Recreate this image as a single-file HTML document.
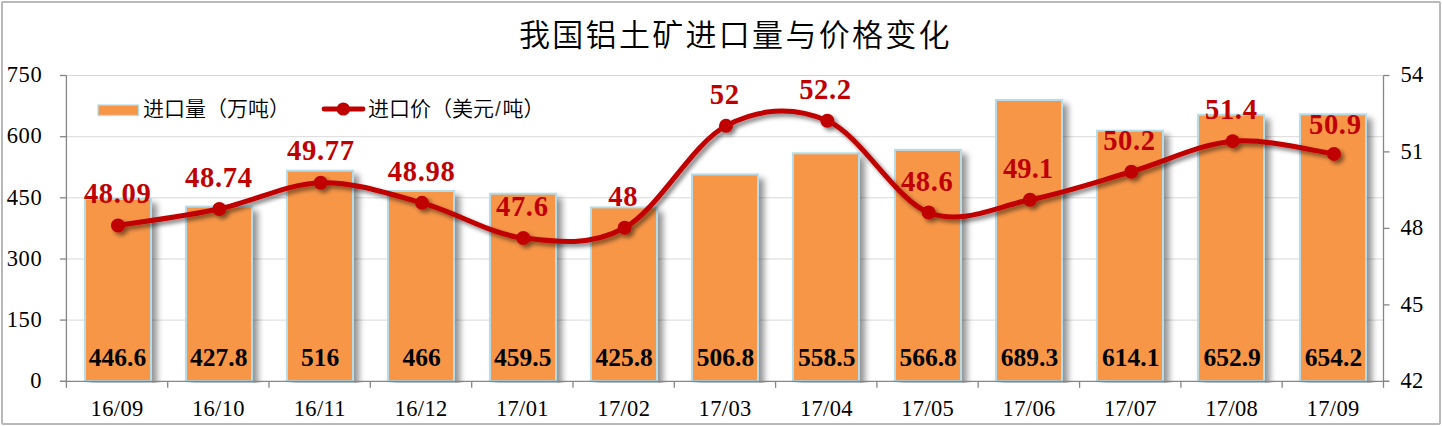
<!DOCTYPE html>
<html lang="zh"><head><meta charset="utf-8"><title>我国铝土矿进口量与价格变化</title>
<style>html,body{margin:0;padding:0;background:#fff;}body{width:1442px;height:426px;overflow:hidden;}svg{display:block;}
.ax{font-family:"Liberation Serif", "Times New Roman", serif;font-size:22.5px;fill:#000;letter-spacing:0.35px;}
.bl{font-family:"Liberation Serif", "Times New Roman", serif;font-size:25.5px;font-weight:bold;fill:#000;}
.rl{font-family:"Liberation Serif", "Times New Roman", serif;font-size:28.6px;font-weight:bold;fill:#c00000;letter-spacing:0.65px;}
.lg{font-family:"Liberation Sans", "Noto Sans CJK SC", sans-serif;font-size:21px;font-weight:350;fill:#000;}
.tt{font-family:"Liberation Sans", "Noto Sans CJK SC", sans-serif;font-size:31px;font-weight:350;letter-spacing:2.3px;fill:#000;}
</style></head><body>
<svg width="1442" height="426" viewBox="0 0 1442 426">
<defs>
<filter id="bs" x="-20%" y="-10%" width="150%" height="125%"><feGaussianBlur in="SourceAlpha" stdDeviation="3.1"/><feOffset dx="4.5" dy="4.5" result="b"/><feComponentTransfer><feFuncA type="linear" slope="0.43"/></feComponentTransfer><feMerge><feMergeNode/><feMergeNode in="SourceGraphic"/></feMerge></filter>
<filter id="ls" x="-5%" y="-20%" width="110%" height="140%"><feGaussianBlur in="SourceAlpha" stdDeviation="2.2"/><feOffset dx="3" dy="3" result="b"/><feComponentTransfer><feFuncA type="linear" slope="0.5"/></feComponentTransfer><feMerge><feMergeNode/><feMergeNode in="SourceGraphic"/></feMerge></filter>
<clipPath id="pc"><rect x="0" y="0" width="1442" height="382.9"/></clipPath>
</defs>
<rect x="0" y="0" width="1442" height="426" fill="#fff"/>
<rect x="2" y="2" width="1438" height="421.9" rx="0.8" ry="0.8" fill="#fff" stroke="#b9b9b9" stroke-width="2"/>
<line x1="66.4" y1="320.1" x2="1383.5" y2="320.1" stroke="#d9d9d9" stroke-width="1"/>
<line x1="66.4" y1="259.0" x2="1383.5" y2="259.0" stroke="#d9d9d9" stroke-width="1"/>
<line x1="66.4" y1="197.8" x2="1383.5" y2="197.8" stroke="#d9d9d9" stroke-width="1"/>
<line x1="66.4" y1="136.7" x2="1383.5" y2="136.7" stroke="#d9d9d9" stroke-width="1"/>
<line x1="66.4" y1="75.5" x2="1383.5" y2="75.5" stroke="#d9d9d9" stroke-width="1"/>
<text class="tt" x="519" y="46.3">我国铝土矿进口量与价格变化</text>
<g clip-path="url(#pc)"><g filter="url(#bs)">
<rect x="85.0" y="199.0" width="66.0" height="182.1" fill="#f79646" stroke="#b5dce8" stroke-width="2"/>
<rect x="186.0" y="206.6" width="66.0" height="174.5" fill="#f79646" stroke="#b5dce8" stroke-width="2"/>
<rect x="287.0" y="170.7" width="66.0" height="210.4" fill="#f79646" stroke="#b5dce8" stroke-width="2"/>
<rect x="388.0" y="191.0" width="66.0" height="190.1" fill="#f79646" stroke="#b5dce8" stroke-width="2"/>
<rect x="490.0" y="193.7" width="66.0" height="187.4" fill="#f79646" stroke="#b5dce8" stroke-width="2"/>
<rect x="591.0" y="207.4" width="66.0" height="173.7" fill="#f79646" stroke="#b5dce8" stroke-width="2"/>
<rect x="692.0" y="174.4" width="66.0" height="206.7" fill="#f79646" stroke="#b5dce8" stroke-width="2"/>
<rect x="793.0" y="153.3" width="66.0" height="227.8" fill="#f79646" stroke="#b5dce8" stroke-width="2"/>
<rect x="895.0" y="149.9" width="66.0" height="231.2" fill="#f79646" stroke="#b5dce8" stroke-width="2"/>
<rect x="996.0" y="100.0" width="66.0" height="281.1" fill="#f79646" stroke="#b5dce8" stroke-width="2"/>
<rect x="1097.0" y="130.7" width="66.0" height="250.4" fill="#f79646" stroke="#b5dce8" stroke-width="2"/>
<rect x="1198.0" y="114.8" width="66.0" height="266.3" fill="#f79646" stroke="#b5dce8" stroke-width="2"/>
<rect x="1300.0" y="114.3" width="66.0" height="266.8" fill="#f79646" stroke="#b5dce8" stroke-width="2"/>
</g></g>
<g stroke="#868686" stroke-width="1.3" fill="none">
<line x1="66.4" y1="75.5" x2="66.4" y2="381.3"/>
<line x1="1383.5" y1="75.5" x2="1383.5" y2="381.3"/>
<line x1="59.9" y1="381.3" x2="1389.0" y2="381.3"/>
<line x1="59.9" y1="381.3" x2="66.4" y2="381.3"/>
<line x1="59.9" y1="320.1" x2="66.4" y2="320.1"/>
<line x1="59.9" y1="259.0" x2="66.4" y2="259.0"/>
<line x1="59.9" y1="197.8" x2="66.4" y2="197.8"/>
<line x1="59.9" y1="136.7" x2="66.4" y2="136.7"/>
<line x1="59.9" y1="75.5" x2="66.4" y2="75.5"/>
<line x1="1383.5" y1="381.3" x2="1389.5" y2="381.3"/>
<line x1="1383.5" y1="304.9" x2="1389.5" y2="304.9"/>
<line x1="1383.5" y1="228.4" x2="1389.5" y2="228.4"/>
<line x1="1383.5" y1="151.9" x2="1389.5" y2="151.9"/>
<line x1="1383.5" y1="75.5" x2="1389.5" y2="75.5"/>
<line x1="66.4" y1="381.3" x2="66.4" y2="387.8"/>
<line x1="167.7" y1="381.3" x2="167.7" y2="387.8"/>
<line x1="269.0" y1="381.3" x2="269.0" y2="387.8"/>
<line x1="370.3" y1="381.3" x2="370.3" y2="387.8"/>
<line x1="471.7" y1="381.3" x2="471.7" y2="387.8"/>
<line x1="573.0" y1="381.3" x2="573.0" y2="387.8"/>
<line x1="674.3" y1="381.3" x2="674.3" y2="387.8"/>
<line x1="775.6" y1="381.3" x2="775.6" y2="387.8"/>
<line x1="876.9" y1="381.3" x2="876.9" y2="387.8"/>
<line x1="978.2" y1="381.3" x2="978.2" y2="387.8"/>
<line x1="1079.6" y1="381.3" x2="1079.6" y2="387.8"/>
<line x1="1180.9" y1="381.3" x2="1180.9" y2="387.8"/>
<line x1="1282.2" y1="381.3" x2="1282.2" y2="387.8"/>
<line x1="1383.5" y1="381.3" x2="1383.5" y2="387.8"/>
</g>
<text class="ax" x="42.0" y="388.0" text-anchor="end" style="letter-spacing:0.55px">0</text>
<text class="ax" x="42.2" y="326.8" text-anchor="end" style="letter-spacing:0.55px">150</text>
<text class="ax" x="42.2" y="265.7" text-anchor="end" style="letter-spacing:0.55px">300</text>
<text class="ax" x="42.2" y="204.5" text-anchor="end" style="letter-spacing:0.55px">450</text>
<text class="ax" x="42.2" y="143.4" text-anchor="end" style="letter-spacing:0.55px">600</text>
<text class="ax" x="42.2" y="82.2" text-anchor="end" style="letter-spacing:0.55px">750</text>
<text class="ax" x="1400.5" y="388.1">42</text>
<text class="ax" x="1400.5" y="311.7">45</text>
<text class="ax" x="1400.5" y="235.2">48</text>
<text class="ax" x="1400.5" y="158.8">51</text>
<text class="ax" x="1400.5" y="82.3">54</text>
<text class="ax" x="117.1" y="416.3" text-anchor="middle">16/09</text>
<text class="ax" x="218.4" y="416.3" text-anchor="middle">16/10</text>
<text class="ax" x="319.8" y="416.3" text-anchor="middle">16/11</text>
<text class="ax" x="421.1" y="416.3" text-anchor="middle">16/12</text>
<text class="ax" x="522.4" y="416.3" text-anchor="middle">17/01</text>
<text class="ax" x="623.8" y="416.3" text-anchor="middle">17/02</text>
<text class="ax" x="725.1" y="416.3" text-anchor="middle">17/03</text>
<text class="ax" x="826.4" y="416.3" text-anchor="middle">17/04</text>
<text class="ax" x="927.7" y="416.3" text-anchor="middle">17/05</text>
<text class="ax" x="1029.1" y="416.3" text-anchor="middle">17/06</text>
<text class="ax" x="1130.4" y="416.3" text-anchor="middle">17/07</text>
<text class="ax" x="1231.7" y="416.3" text-anchor="middle">17/08</text>
<text class="ax" x="1333.1" y="416.3" text-anchor="middle">17/09</text>
<text class="bl" x="117.5" y="366" text-anchor="middle">446.6</text>
<text class="bl" x="218.8" y="366" text-anchor="middle">427.8</text>
<text class="bl" x="320.2" y="366" text-anchor="middle">516</text>
<text class="bl" x="421.5" y="366" text-anchor="middle">466</text>
<text class="bl" x="522.8" y="366" text-anchor="middle">459.5</text>
<text class="bl" x="624.1" y="366" text-anchor="middle">425.8</text>
<text class="bl" x="725.5" y="366" text-anchor="middle">506.8</text>
<text class="bl" x="826.8" y="366" text-anchor="middle">558.5</text>
<text class="bl" x="928.1" y="366" text-anchor="middle">566.8</text>
<text class="bl" x="1029.5" y="366" text-anchor="middle">689.3</text>
<text class="bl" x="1130.8" y="366" text-anchor="middle">614.1</text>
<text class="bl" x="1232.1" y="366" text-anchor="middle">652.9</text>
<text class="bl" x="1333.5" y="366" text-anchor="middle">654.2</text>
<g filter="url(#ls)">
<path d="M118.00,225.51 C134.89,222.75 185.55,216.08 219.33,208.94 C253.11,201.81 286.88,183.71 320.66,182.69 C354.44,181.68 388.21,193.61 421.99,202.83 C455.77,212.04 489.54,233.83 523.32,237.99 C557.10,242.16 590.87,246.49 624.65,227.80 C658.43,209.11 692.20,143.70 725.98,125.87 C759.76,108.03 793.53,106.33 827.31,120.77 C861.09,135.21 894.86,199.34 928.64,212.51 C962.42,225.68 996.19,206.56 1029.97,199.77 C1063.75,192.97 1097.52,181.51 1131.30,171.74 C1165.08,161.97 1198.85,144.13 1232.63,141.16 C1266.41,138.18 1317.07,151.77 1333.96,153.90" fill="none" stroke="#c00000" stroke-width="5" stroke-linecap="round" stroke-linejoin="round"/>
<circle cx="118.00" cy="225.51" r="7" fill="#c00000"/>
<circle cx="219.33" cy="208.94" r="7" fill="#c00000"/>
<circle cx="320.66" cy="182.69" r="7" fill="#c00000"/>
<circle cx="421.99" cy="202.83" r="7" fill="#c00000"/>
<circle cx="523.32" cy="237.99" r="7" fill="#c00000"/>
<circle cx="624.65" cy="227.80" r="7" fill="#c00000"/>
<circle cx="725.98" cy="125.87" r="7" fill="#c00000"/>
<circle cx="827.31" cy="120.77" r="7" fill="#c00000"/>
<circle cx="928.64" cy="212.51" r="7" fill="#c00000"/>
<circle cx="1029.97" cy="199.77" r="7" fill="#c00000"/>
<circle cx="1131.30" cy="171.74" r="7" fill="#c00000"/>
<circle cx="1232.63" cy="141.16" r="7" fill="#c00000"/>
<circle cx="1333.96" cy="153.90" r="7" fill="#c00000"/>
</g>
<text class="rl" x="117.7" y="202.8" text-anchor="middle">48.09</text>
<text class="rl" x="218.8" y="187.1" text-anchor="middle">48.74</text>
<text class="rl" x="320.8" y="160.4" text-anchor="middle">49.77</text>
<text class="rl" x="421.6" y="180.6" text-anchor="middle">48.98</text>
<text class="rl" x="522.3" y="215.9" text-anchor="middle">47.6</text>
<text class="rl" x="623.3" y="205.8" text-anchor="middle">48</text>
<text class="rl" x="724.7" y="103.8" text-anchor="middle">52</text>
<text class="rl" x="825.5" y="98.6" text-anchor="middle">52.2</text>
<text class="rl" x="927.2" y="190.6" text-anchor="middle">48.6</text>
<text class="rl" x="1028.1" y="177.7" text-anchor="middle" style="letter-spacing:0px">49.1</text>
<text class="rl" x="1129.5" y="149.5" text-anchor="middle">50.2</text>
<text class="rl" x="1231.3" y="118.7" text-anchor="middle">51.4</text>
<text class="rl" x="1335.3" y="133.7" text-anchor="middle">50.9</text>
<rect x="98" y="105" width="40.5" height="10.5" fill="#f79646" stroke="#b7dee8" stroke-width="1.3"/>
<text class="lg" x="143" y="116">进口量（万吨）</text>
<line x1="324" y1="109" x2="363" y2="109" stroke="#c00000" stroke-width="4.8" stroke-linecap="round"/>
<circle cx="343.3" cy="109" r="6.6" fill="#c00000"/>
<text class="lg" x="368" y="116">进口价（美元<tspan dx="1" fill="#333">/</tspan><tspan dx="1.6">吨）</tspan></text>
</svg></body></html>
